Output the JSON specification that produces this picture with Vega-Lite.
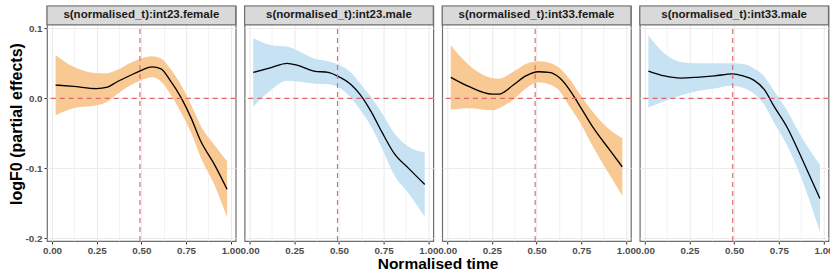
{
  "$schema": "https://vega.github.io/schema/vega-lite/v6.json",
  "padding": {"left": 8, "top": 4, "right": 3, "bottom": 0},
  "bounds": "flush",
  "config": {
    "font": "Liberation Sans",
    "view": {"stroke": null},
    "axis": {
      "domain": false,
      "gridColor": "#EBEBEB",
      "tickColor": "#333333",
      "tickSize": 3,
      "labelColor": "#4D4D4D",
      "labelFontSize": 9.8,
      "labelFontWeight": "bold",
      "labelFont": "Liberation Sans",
      "labelPadding": 1,
      "titleFont": "Liberation Sans",
      "titleColor": "#000000",
      "titleFontWeight": "bold"
    }
  },
  "data": {"values": [
      {"panel": "s(normalised_t):int23.female", "sex": "female", "x": 0.02, "fit": 0.019, "lo": -0.024, "hi": 0.062},
      {"panel": "s(normalised_t):int23.female", "sex": "female", "x": 0.12, "fit": 0.017, "lo": -0.014, "hi": 0.045},
      {"panel": "s(normalised_t):int23.female", "sex": "female", "x": 0.25, "fit": 0.014, "lo": -0.010, "hi": 0.036},
      {"panel": "s(normalised_t):int23.female", "sex": "female", "x": 0.31, "fit": 0.016, "lo": -0.005, "hi": 0.036},
      {"panel": "s(normalised_t):int23.female", "sex": "female", "x": 0.36, "fit": 0.023, "lo": 0.005, "hi": 0.040},
      {"panel": "s(normalised_t):int23.female", "sex": "female", "x": 0.44, "fit": 0.033, "lo": 0.019, "hi": 0.051},
      {"panel": "s(normalised_t):int23.female", "sex": "female", "x": 0.50, "fit": 0.040, "lo": 0.026, "hi": 0.057},
      {"panel": "s(normalised_t):int23.female", "sex": "female", "x": 0.56, "fit": 0.045, "lo": 0.030, "hi": 0.060},
      {"panel": "s(normalised_t):int23.female", "sex": "female", "x": 0.61, "fit": 0.042, "lo": 0.024, "hi": 0.057},
      {"panel": "s(normalised_t):int23.female", "sex": "female", "x": 0.66, "fit": 0.026, "lo": 0.007, "hi": 0.043},
      {"panel": "s(normalised_t):int23.female", "sex": "female", "x": 0.72, "fit": 0.002, "lo": -0.019, "hi": 0.020},
      {"panel": "s(normalised_t):int23.female", "sex": "female", "x": 0.78, "fit": -0.029, "lo": -0.050, "hi": -0.010},
      {"panel": "s(normalised_t):int23.female", "sex": "female", "x": 0.83, "fit": -0.060, "lo": -0.083, "hi": -0.038},
      {"panel": "s(normalised_t):int23.female", "sex": "female", "x": 0.91, "fit": -0.095, "lo": -0.124, "hi": -0.067},
      {"panel": "s(normalised_t):int23.female", "sex": "female", "x": 0.98, "fit": -0.130, "lo": -0.170, "hi": -0.090},

      {"panel": "s(normalised_t):int23.male", "sex": "male", "x": 0.02, "fit": 0.037, "lo": -0.012, "hi": 0.086},
      {"panel": "s(normalised_t):int23.male", "sex": "male", "x": 0.12, "fit": 0.044, "lo": 0.012, "hi": 0.076},
      {"panel": "s(normalised_t):int23.male", "sex": "male", "x": 0.21, "fit": 0.050, "lo": 0.025, "hi": 0.074},
      {"panel": "s(normalised_t):int23.male", "sex": "male", "x": 0.27, "fit": 0.047, "lo": 0.024, "hi": 0.068},
      {"panel": "s(normalised_t):int23.male", "sex": "male", "x": 0.36, "fit": 0.039, "lo": 0.021, "hi": 0.057},
      {"panel": "s(normalised_t):int23.male", "sex": "male", "x": 0.44, "fit": 0.037, "lo": 0.020, "hi": 0.053},
      {"panel": "s(normalised_t):int23.male", "sex": "male", "x": 0.49, "fit": 0.032, "lo": 0.017, "hi": 0.049},
      {"panel": "s(normalised_t):int23.male", "sex": "male", "x": 0.57, "fit": 0.019, "lo": 0.000, "hi": 0.036},
      {"panel": "s(normalised_t):int23.male", "sex": "male", "x": 0.62, "fit": 0.005, "lo": -0.017, "hi": 0.021},
      {"panel": "s(normalised_t):int23.male", "sex": "male", "x": 0.68, "fit": -0.019, "lo": -0.040, "hi": 0.002},
      {"panel": "s(normalised_t):int23.male", "sex": "male", "x": 0.74, "fit": -0.048, "lo": -0.071, "hi": -0.021},
      {"panel": "s(normalised_t):int23.male", "sex": "male", "x": 0.81, "fit": -0.079, "lo": -0.110, "hi": -0.050},
      {"panel": "s(normalised_t):int23.male", "sex": "male", "x": 0.89, "fit": -0.100, "lo": -0.136, "hi": -0.069},
      {"panel": "s(normalised_t):int23.male", "sex": "male", "x": 0.98, "fit": -0.123, "lo": -0.169, "hi": -0.077},

      {"panel": "s(normalised_t):int33.female", "sex": "female", "x": 0.02, "fit": 0.030, "lo": -0.016, "hi": 0.076},
      {"panel": "s(normalised_t):int33.female", "sex": "female", "x": 0.12, "fit": 0.017, "lo": -0.014, "hi": 0.048},
      {"panel": "s(normalised_t):int33.female", "sex": "female", "x": 0.25, "fit": 0.006, "lo": -0.017, "hi": 0.029},
      {"panel": "s(normalised_t):int33.female", "sex": "female", "x": 0.29, "fit": 0.006, "lo": -0.014, "hi": 0.028},
      {"panel": "s(normalised_t):int33.female", "sex": "female", "x": 0.37, "fit": 0.019, "lo": -0.002, "hi": 0.038},
      {"panel": "s(normalised_t):int33.female", "sex": "female", "x": 0.44, "fit": 0.032, "lo": 0.014, "hi": 0.049},
      {"panel": "s(normalised_t):int33.female", "sex": "female", "x": 0.51, "fit": 0.038, "lo": 0.023, "hi": 0.053},
      {"panel": "s(normalised_t):int33.female", "sex": "female", "x": 0.57, "fit": 0.037, "lo": 0.020, "hi": 0.051},
      {"panel": "s(normalised_t):int33.female", "sex": "female", "x": 0.63, "fit": 0.029, "lo": 0.010, "hi": 0.043},
      {"panel": "s(normalised_t):int33.female", "sex": "female", "x": 0.68, "fit": 0.014, "lo": -0.010, "hi": 0.029},
      {"panel": "s(normalised_t):int33.female", "sex": "female", "x": 0.74, "fit": -0.010, "lo": -0.033, "hi": 0.007},
      {"panel": "s(normalised_t):int33.female", "sex": "female", "x": 0.82, "fit": -0.043, "lo": -0.071, "hi": -0.021},
      {"panel": "s(normalised_t):int33.female", "sex": "female", "x": 0.91, "fit": -0.074, "lo": -0.110, "hi": -0.045},
      {"panel": "s(normalised_t):int33.female", "sex": "female", "x": 0.98, "fit": -0.098, "lo": -0.139, "hi": -0.057},

      {"panel": "s(normalised_t):int33.male", "sex": "male", "x": 0.02, "fit": 0.039, "lo": -0.013, "hi": 0.090},
      {"panel": "s(normalised_t):int33.male", "sex": "male", "x": 0.11, "fit": 0.032, "lo": -0.004, "hi": 0.064},
      {"panel": "s(normalised_t):int33.male", "sex": "male", "x": 0.20, "fit": 0.029, "lo": 0.004, "hi": 0.052},
      {"panel": "s(normalised_t):int33.male", "sex": "male", "x": 0.29, "fit": 0.030, "lo": 0.010, "hi": 0.050},
      {"panel": "s(normalised_t):int33.male", "sex": "male", "x": 0.39, "fit": 0.032, "lo": 0.014, "hi": 0.050},
      {"panel": "s(normalised_t):int33.male", "sex": "male", "x": 0.49, "fit": 0.035, "lo": 0.018, "hi": 0.050},
      {"panel": "s(normalised_t):int33.male", "sex": "male", "x": 0.55, "fit": 0.032, "lo": 0.015, "hi": 0.049},
      {"panel": "s(normalised_t):int33.male", "sex": "male", "x": 0.61, "fit": 0.026, "lo": 0.007, "hi": 0.043},
      {"panel": "s(normalised_t):int33.male", "sex": "male", "x": 0.67, "fit": 0.012, "lo": -0.010, "hi": 0.031},
      {"panel": "s(normalised_t):int33.male", "sex": "male", "x": 0.72, "fit": -0.010, "lo": -0.033, "hi": 0.012},
      {"panel": "s(normalised_t):int33.male", "sex": "male", "x": 0.80, "fit": -0.043, "lo": -0.069, "hi": -0.019},
      {"panel": "s(normalised_t):int33.male", "sex": "male", "x": 0.87, "fit": -0.081, "lo": -0.110, "hi": -0.052},
      {"panel": "s(normalised_t):int33.male", "sex": "male", "x": 0.98, "fit": -0.143, "lo": -0.191, "hi": -0.095}
  ]},
  "facet": {"column": {"field": "panel", "type": "nominal", "title": "Normalised time",
    "header": {"labels": false, "titleOrient": "bottom", "titleFontSize": 15.5, "titleFontWeight": "bold", "titleColor": "#000000", "titleFont": "Liberation Sans", "titlePadding": -8}}},
  "spacing": 8.6,
  "spec": {
    "width": 188.7,
    "height": 235,
    "view": {"fill": "#FFFFFF", "stroke": "#6E6E6E", "strokeWidth": 1.2},
    "encoding": {
      "x": {"field": "x", "type": "quantitative", "scale": {"domain": [-0.028, 1.028], "nice": false, "zero": false},
        "axis": {"title": null, "values": [0, 0.125, 0.25, 0.375, 0.5, 0.625, 0.75, 0.875, 1],
          "labelExpr": "abs(datum.value*4-round(datum.value*4))>0.01 ? '' : format(datum.value,'.2f')",
          "tickOpacity": {"condition": {"test": "abs(datum.value*4-round(datum.value*4))>0.01", "value": 0}, "value": 1},
          "gridWidth": {"condition": {"test": "abs(datum.value*4-round(datum.value*4))>0.01", "value": 0.6}, "value": 1.1},
          "labelOverlap": false, "labelFlush": false, "labelBound": false}}
    },
    "layer": [
      {
        "mark": {"type": "area", "opacity": 1, "interpolate": "monotone"},
        "encoding": {
          "y": {"field": "lo", "type": "quantitative", "scale": {"domain": [-0.2038, 0.1319], "nice": false, "zero": false},
            "axis": {"title": "logF0 (partial effects)", "titleFontSize": 16, "titlePadding": 1,
              "values": [-0.2, -0.15, -0.1, -0.05, 0, 0.05, 0.1],
              "labelExpr": "abs(datum.value*10-round(datum.value*10))>0.01 ? '' : replace(format(datum.value,'.1f'),'\u2212','-')",
              "tickOpacity": {"condition": {"test": "abs(datum.value*10-round(datum.value*10))>0.01", "value": 0}, "value": 1},
              "gridWidth": {"condition": {"test": "abs(datum.value*10-round(datum.value*10))>0.01", "value": 0.6}, "value": 1.1},
              "labelOverlap": false, "labelFlush": false, "labelPadding": 2}},
          "y2": {"field": "hi"},
          "color": {"field": "sex", "type": "nominal", "scale": {"domain": ["female", "male"], "range": ["#F8C992", "#C7E2F3"]}, "legend": null}
        }
      },
      {
        "mark": {"type": "line", "color": "#000000", "strokeWidth": 1.3, "interpolate": "monotone"},
        "encoding": {"y": {"field": "fit", "type": "quantitative"}}
      },
      {
        "transform": [{"filter": "datum.x == 0.02"}],
        "mark": {"type": "rule", "color": "#E0666C", "strokeDash": [5, 4], "strokeWidth": 1.3, "opacity": 1},
        "encoding": {"y": {"datum": 0, "type": "quantitative"}, "x": null}
      },
      {
        "transform": [{"filter": "datum.x == 0.02"}],
        "mark": {"type": "rule", "color": "#DC6E73", "strokeDash": [5, 4], "strokeWidth": 1.2},
        "encoding": {"x": {"datum": 0.492, "type": "quantitative"}, "y": {"datum": -0.2038, "type": "quantitative"}, "y2": {"datum": 0.1048}}
      },
      {
        "transform": [{"filter": "datum.x == 0.02"}],
        "mark": {"type": "rect", "fill": "#D9D9D9", "stroke": "#6E6E6E", "strokeWidth": 1.2},
        "encoding": {"x": {"datum": -0.028, "type": "quantitative"}, "x2": {"datum": 1.028}, "y": {"datum": 0.1048, "type": "quantitative"}, "y2": {"datum": 0.1319}}
      },
      {
        "transform": [{"filter": "datum.x == 0.02"}],
        "mark": {"type": "text", "fontWeight": "bold", "fontSize": 11.5, "color": "#1A1A1A", "font": "Liberation Sans", "baseline": "middle", "align": "center"},
        "encoding": {"x": {"datum": 0.5, "type": "quantitative"}, "y": {"datum": 0.1184, "type": "quantitative"}, "text": {"field": "panel", "type": "nominal"}}
      }
    ]
  }
}
